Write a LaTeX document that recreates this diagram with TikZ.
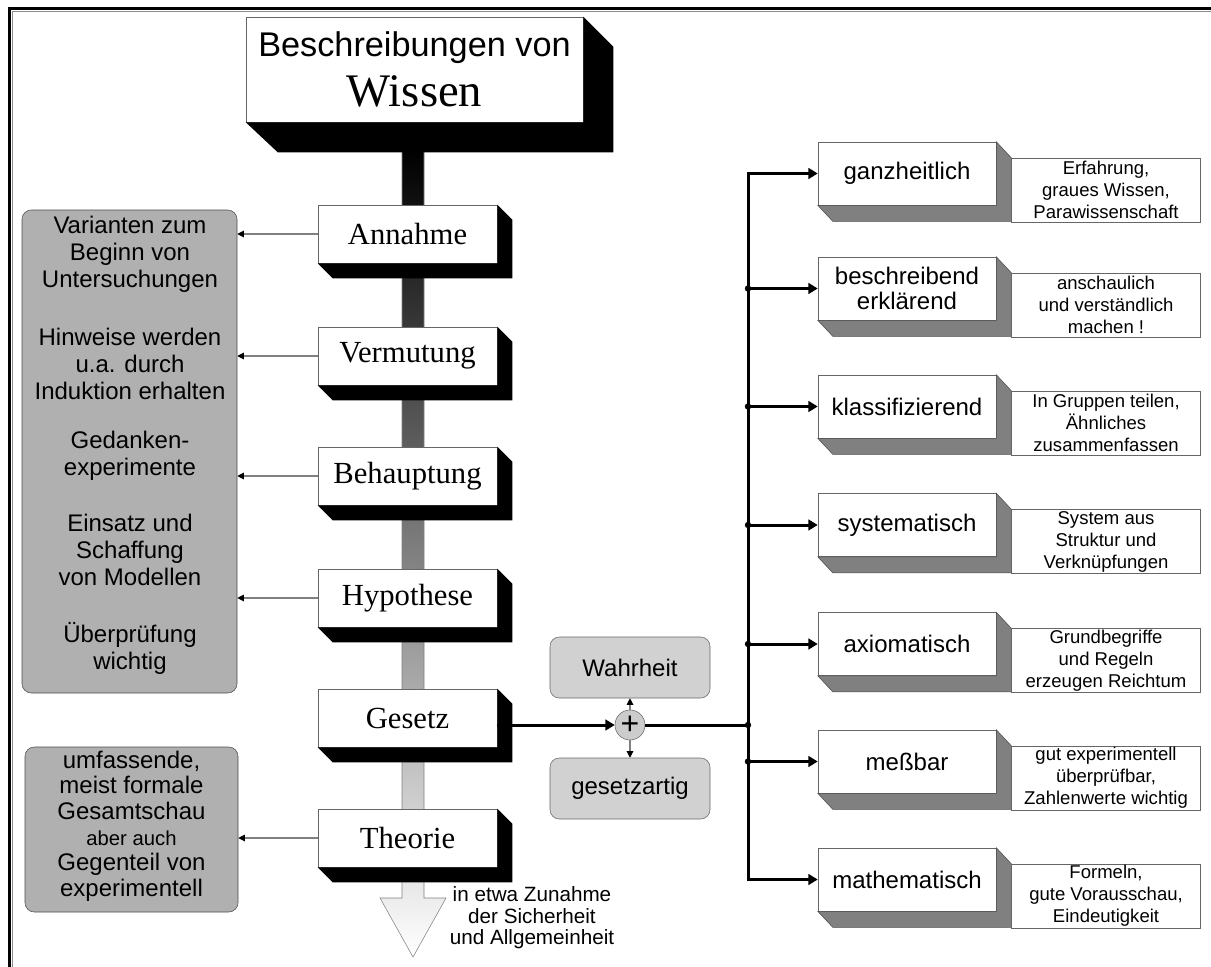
\documentclass[tikz,border=0pt]{standalone}
\usepackage{fontspec}
\setmainfont{Liberation Sans}
\newfontfamily\serif{Liberation Serif}
\usetikzlibrary{arrows.meta, positioning, calc}

\begin{document}
\begin{tikzpicture}[x=0.75pt, y=-0.75pt,
        stage/.style={draw=black!60, fill=white, minimum width=134.25pt, minimum height=43.5pt, inner sep=0pt, font=\serif\fontsize{23}{25}\selectfont},
        kind/.style={draw=black!60, fill=white, minimum width=133.5pt, minimum height=47.25pt, inner sep=0pt, align=center, font=\fontsize{18}{18.75}\selectfont},
        note/.style={draw=black!60, fill=white, minimum width=141.75pt, minimum height=48pt, inner sep=0pt, align=center, font=\fontsize{13.9}{16.5}\selectfont},
        panel/.style={draw=black!70, fill=black!31, rounded corners=7pt, inner sep=0pt},
        tag/.style={draw=black!60, fill=black!18, rounded corners=7pt, minimum width=120pt, minimum height=45.75pt, inner sep=0pt, font=\fontsize{18}{20}\selectfont},
        group/.style={align=center, inner sep=0pt, font=\fontsize{18}{20.25}\selectfont},
        pointer/.style={draw=black!50, line width=0.8pt, -{Triangle[length=5pt, width=5pt, color=black]}},
        bus/.style={line width=2.25pt},
        busarrow/.style={bus, -{Triangle[length=7pt, width=8pt]}}
    ]
        \useasboundingbox (0,0) rectangle (1211,967);
        % frame
        \draw[line width=2.25pt] (9,967) -- (9,8) -- (1211,8);
        \draw[black!45, line width=0.75pt] (12,967) -- (12,11) -- (1211,11);

        % shaded main arrow
        \shade[top color=black, bottom color=white, draw=black!50]
            (402,150) -- (402,898) -- (380,898) -- (413,957) -- (446,898) -- (424,898) -- (424,150) -- cycle;

        % title
        \node[draw=black!60, fill=white, minimum width=252.75pt, minimum height=78.75pt, align=center,
              font=\fontsize{25.7}{37}\selectfont] (title) at (414.5,69.5)
              {Beschreibungen von\\{\serif\fontsize{35}{37}\selectfont Wissen}};
        \fill[black] (title.south west) -- ++(32,30) -- ($(title.south east)+(30,30)$)
            -- ($(title.north east)+(30,30)$) -- (title.north east) -- (title.south east) -- cycle;

        % stages
        \foreach \y/\name/\txt in {234/annahme/Annahme, 356/vermutung/Vermutung, 476/behauptung/Behauptung,
                                   598/hypothese/Hypothese, 718/gesetz/Gesetz, 838/theorie/Theorie} {
            \node[stage] (\name) at (407.5,\y) {\txt};
            \fill[black] (\name.south west) -- ++(15,15) -- ($(\name.south east)+(15,15)$)
                -- ($(\name.north east)+(15,15)$) -- (\name.north east) -- (\name.south east) -- cycle;
        }

        % left panels
        \node[panel, minimum width=161.25pt, minimum height=362.25pt] (bigbox) at (129.5,451.5) {};
        \node[panel, minimum width=159.75pt, minimum height=123.75pt] (smallbox) at (131.5,829.5) {};

        \node[group] (g1) at (130,254) {Varianten zum\\Beginn von\\Untersuchungen};
        \node[group] (g2) at (130,364) {Hinweise werden\\u.a. durch\\Induktion erhalten};
        \node[group] (g3) at (130,456) {Gedanken-\\experimente};
        \node[group] (g4) at (130,550) {Einsatz und\\Schaffung\\von Modellen};
        \node[group] (g5) at (130,648.5) {Überprüfung\\wichtig};
        \node[group, font=\fontsize{18}{19.2}\selectfont] (g6) at (131.5,826)
            {umfassende,\\meist formale\\Gesamtschau\\{\fontsize{15.2}{19.2}\selectfont aber auch}\\Gegenteil von\\experimentell};

        \foreach \name in {annahme, vermutung, behauptung, hypothese}
            \draw[pointer] (\name.west) -- (\name.west -| bigbox.east);
        \draw[pointer] (theorie.west) -- (theorie.west -| smallbox.east);

        \node[align=center, inner sep=0pt, font=\fontsize{15.5}{16.2}\selectfont] (trend) at (532,918)
            {in etwa Zunahme\\der Sicherheit\\und Allgemeinheit};

        % junction
        \node[circle, draw=black!60, fill=black!20, minimum size=22.5pt, inner sep=0pt,
              font=\fontsize{24}{24}\selectfont] (plus) at (630,725) {+};
        \node[tag] (wahr) at (630,667.5) {Wahrheit};
        \node[tag] (artig) at (630,788.5) {gesetzartig};
        \draw[busarrow] ([yshift=-5.25pt]gesetz.east) -- (plus);
        \draw[pointer] (plus) -- (wahr);
        \draw[pointer] (plus) -- (artig);

        \coordinate (split) at (748,725);
        \draw[bus] (plus) -- (split);
        \fill (split) circle (2.4pt);

        % kinds of description
        \foreach \y/\name/\txt/\desc in {
                173.5/k1/ganzheitlich/{Erfahrung,\\graues Wissen,\\Parawissenschaft},
                288.5/k2/{beschreibend\\erklärend}/{anschaulich\\und verständlich\\machen !},
                406.5/k3/klassifizierend/{In Gruppen teilen,\\Ähnliches\\zusammenfassen},
                525/k4/systematisch/{System aus\\Struktur und\\Verknüpfungen},
                644/k5/axiomatisch/{Grundbegriffe\\und Regeln\\erzeugen Reichtum},
                761.5/k6/meßbar/{gut experimentell\\überprüfbar,\\Zahlenwerte wichtig},
                879.5/k7/mathematisch/{Formeln,\\gute Vorausschau,\\Eindeutigkeit}} {
            \node[kind] (\name) at (907,\y) {\txt};
            \filldraw[fill=black!50, draw=black!70] (\name.south west) -- ++(15,16) -- ($(\name.south east)+(15,16)$)
                -- ($(\name.north east)+(15,16)$) -- (\name.north east) -- (\name.south east) -- cycle;
            \node[note, anchor=north west] (d-\name) at ($(\name.north east)+(15,16)$) {\desc};
            \draw[busarrow] (split) |- (\name);
        }
        \foreach \name in {k2, k3, k4, k5, k6}
            \fill (split |- \name) circle (2.4pt);
    \end{tikzpicture}
\end{document}
